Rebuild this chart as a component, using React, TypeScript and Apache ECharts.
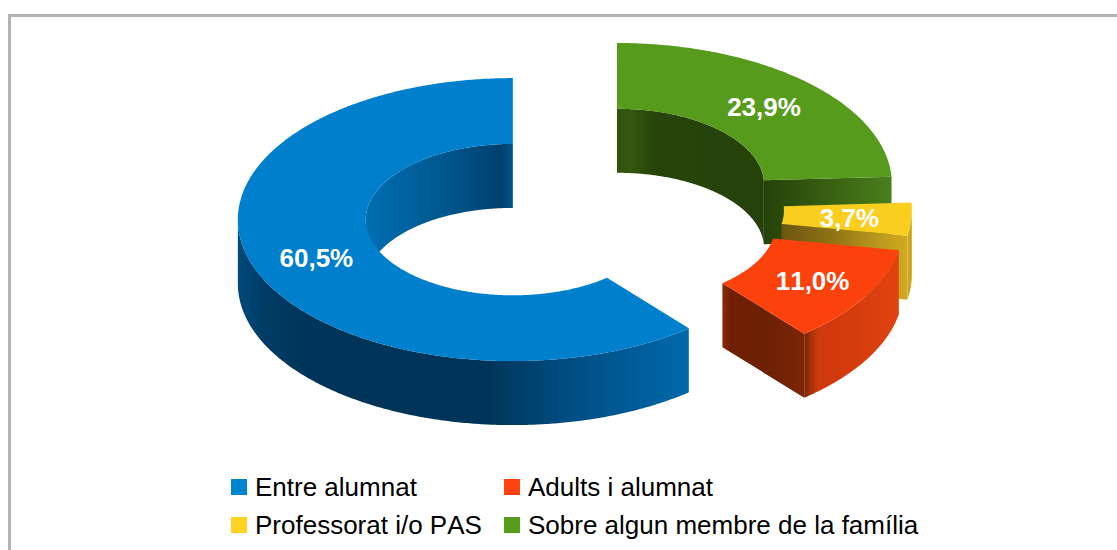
import React, { useEffect, useRef } from "react";
import * as echarts from "echarts";

const categories = ["Entre alumnat", "Adults i alumnat", "Professorat i/o PAS", "Sobre algun membre de la família"];
const values = [60.5, 11.0, 3.7, 23.9];

const topColors = ["#0080cc", "#fb420c", "#f9ce1f", "#579b1c"];
const legendColors = ["#0084d1", "#ff420e", "#ffd320", "#579d1c"];

type Stops = [number, string][];
// wall shading, left to right across each face
const outerWall: Stops[] = [
  [[0, "#004a7c"], [0.06, "#003c66"], [0.15, "#003458"], [0.55, "#003458"], [0.72, "#004b80"], [1, "#0069aa"]],
  [[0, "#78240a"], [0.06, "#a0300a"], [0.15, "#cf3a0c"], [0.3, "#d0390c"], [1, "#e0430f"]],
  [[0, "#d0ab20"], [1, "#c9a41a"]],
  [[0, "#4a801c"], [1, "#4a801c"]],
];
const innerWall: Stops[] = [
  [[0, "#006eb2"], [0.5, "#00598f"], [0.92, "#004070"], [1, "#005588"]],
  [[0, "#6a2005"], [1, "#6a2005"]],
  [[0, "#6a5410"], [1, "#6a5410"]],
  [[0, "#2e500d"], [0.09, "#34590f"], [0.25, "#27440b"], [1, "#25420a"]],
];
const endFace: Stops[] = [
  [[0, "#00335a"], [1, "#00335a"]],
  [[0, "#8a2d0a"], [0.1, "#701f04"], [0.5, "#6c2004"], [0.9, "#782405"], [1, "#7c2607"]],
  [[0, "#6e5510"], [0.39, "#8e7214"], [0.79, "#bc9a1c"], [1, "#d0ab20"]],
  [[0, "#25420a"], [0.28, "#2f520e"], [0.67, "#3e6a15"], [1, "#4a801c"]],
];

const CX = 573;
const CY = 208.4;
const RX = 275;
const RY = 141.5;
const HOLE = 0.535;
const DEPTH = 64;
const EXPLODE = 0.2326;
const STEP = 0.5;
const TOTAL = values.reduce((a, b) => a + b, 0);

// clockwise from 12 o'clock: the last category first
const drawOrder = [3, 2, 1, 0];
const spans: Record<number, [number, number]> = {};
{
  let acc = 0;
  drawOrder.forEach((i) => {
    const sweep = (values[i] / TOTAL) * 360;
    spans[i] = [acc, acc + sweep];
    acc += sweep;
  });
}

const rad = (d: number) => (d * Math.PI) / 180;

function arc(cx: number, cy: number, k: number, a0: number, a1: number, dy = 0): number[][] {
  const pts: number[][] = [];
  const n = Math.max(1, Math.ceil(Math.abs(a1 - a0) / STEP));
  for (let j = 0; j <= n; j++) {
    const a = rad(a0 + ((a1 - a0) * j) / n);
    pts.push([cx + RX * k * Math.sin(a), cy - RY * k * Math.cos(a) + dy]);
  }
  return pts;
}

function fillOf(stops: Stops) {
  return new echarts.graphic.LinearGradient(0, 0, 1, 0, stops.map(([offset, color]) => ({ offset, color })));
}

function poly(points: number[][], fill: any) {
  return { type: "polygon", shape: { points }, style: { fill, stroke: "none" } };
}

function wall(cx: number, cy: number, k: number, a0: number, a1: number, stops: Stops) {
  const top = arc(cx, cy, k, a0, a1);
  const bottom = arc(cx, cy, k, a1, a0, DEPTH);
  return poly(top.concat(bottom), fillOf(stops));
}

function renderSlice(i: number) {
  return (_params: any, api: any) => {
    const value = api.value(0);
    const [a0, a1] = spans[i];
    const mid = rad((a0 + a1) / 2);
    const cx = CX + EXPLODE * RX * Math.sin(mid);
    const cy = CY - EXPLODE * RY * Math.cos(mid);
    const children: any[] = [];

    // hole wall: seen only in the back half
    if (a0 < 90) children.push(wall(cx, cy, HOLE, a0, Math.min(a1, 90), innerWall[i]));
    if (a1 > 270) children.push(wall(cx, cy, HOLE, Math.max(a0, 270), a1, innerWall[i]));

    // cut face at the end of the slice, when it faces the viewer
    if (Math.sin(rad(a1)) > 0.01) {
      const inner = arc(cx, cy, HOLE, a1, a1)[0];
      const outer = arc(cx, cy, 1, a1, a1)[0];
      children.push(
        poly(
          [inner, outer, [outer[0], outer[1] + DEPTH], [inner[0], inner[1] + DEPTH]],
          fillOf(endFace[i])
        )
      );
    }

    // outer wall: seen only in the front half
    const f0 = Math.max(a0, 90);
    const f1 = Math.min(a1, 270);
    if (f1 > f0) children.push(wall(cx, cy, 1, f0, f1, outerWall[i]));

    // top face
    children.push(poly(arc(cx, cy, 1, a0, a1).concat(arc(cx, cy, HOLE, a1, a0)), topColors[i]));

    const k = (1 + HOLE) / 2;
    children.push({
      type: "text",
      style: {
        text: value.toFixed(1).replace(".", ",") + "%",
        x: cx + RX * k * Math.sin(mid) + 2,
        y: cy - RY * k * Math.cos(mid) + 1,
        fill: "#ffffff",
        font: 'bold 26px "Liberation Sans"',
        align: "center",
        verticalAlign: "middle",
      },
    });
    return { type: "group", children };
  };
}

const legendText = { fontFamily: "Liberation Sans", fontSize: 26, color: "#000000", lineHeight: 30, padding: [0, 0, 0, 3] };

export default function App() {
  const ref = useRef<HTMLDivElement>(null);
  useEffect(() => {
    const chart = echarts.init(ref.current!, undefined, { renderer: "svg" });
    chart.setOption({
      animation: false,
      backgroundColor: "#ffffff",
      graphic: [
        {
          type: "rect",
          shape: { x: 9.5, y: 15.5, width: 1300, height: 700 },
          style: { fill: "none", stroke: "#b3b3b3", lineWidth: 3 },
          z: -1,
        },
      ],
      legend: [
        {
          orient: "vertical",
          left: 231,
          top: 472,
          padding: 0,
          itemWidth: 16,
          itemHeight: 16,
          itemGap: 8,
          icon: "rect",
          data: [categories[0], categories[2]],
          textStyle: legendText,
          selectedMode: false,
        },
        {
          orient: "vertical",
          left: 504,
          top: 472,
          padding: 0,
          itemWidth: 16,
          itemHeight: 16,
          itemGap: 8,
          icon: "rect",
          data: [categories[1], categories[3]],
          textStyle: legendText,
          selectedMode: false,
        },
      ],
      series: drawOrder.map((i) => ({
        type: "custom",
        name: categories[i],
        coordinateSystem: "none",
        silent: true,
        itemStyle: { color: legendColors[i] },
        data: [[values[i]]],
        renderItem: renderSlice(i),
      })),
    });
    return () => chart.dispose();
  }, []);
  return (
    <>
      <style>{"svg text { font-kerning: none !important; }"}</style>
      <div ref={ref} style={{ position: "fixed", left: 0, top: 0, width: 1117, height: 550 }} />
    </>
  );
}
